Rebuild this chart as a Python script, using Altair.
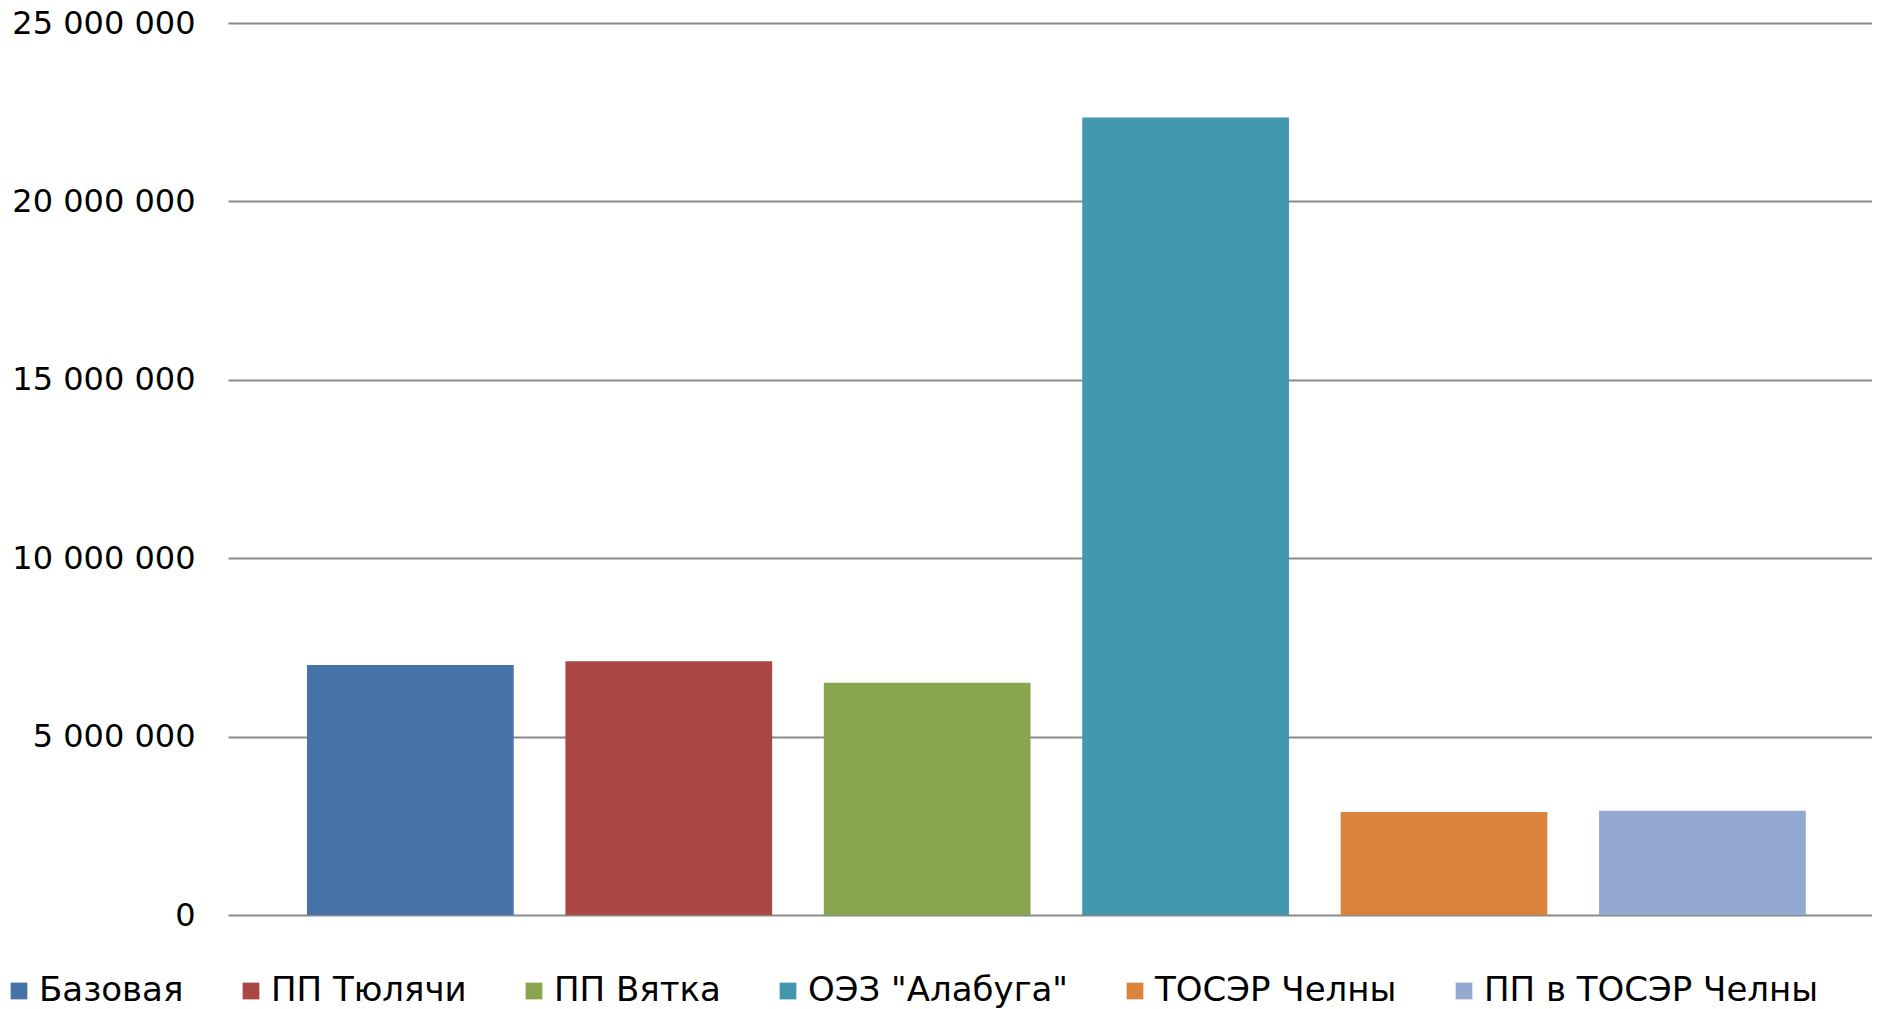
import altair as alt
import pandas as pd

categories = ["Базовая", "ПП Тюлячи", "ПП Вятка", "ОЭЗ \"Алабуга\"", "ТОСЭР Челны", "ПП в ТОСЭР Челны"]
values = [7010000, 7110000, 6510000, 22350000, 2890000, 2920000]
colors = ["#4572A7", "#AA4643", "#89A54E", "#4198AF", "#DB843D", "#93A9CF"]
y_ticks = [0, 5000000, 10000000, 15000000, 20000000, 25000000]

df = pd.DataFrame({"cat": categories, "val": values})

FONT = "DejaVu Sans"

chart = alt.Chart(df).mark_bar().encode(
    x=alt.X("cat:N", sort=categories,
            scale=alt.Scale(paddingInner=0.2, paddingOuter=0.281, align=0.544),
            axis=alt.Axis(labels=False, ticks=False, domain=False, title=None, grid=False)),
    y=alt.Y("val:Q",
            scale=alt.Scale(domain=[0, 25000000], nice=False, zero=True),
            axis=alt.Axis(values=y_ticks, title=None, ticks=False, domain=False,
                          labelPadding=33, labelFontSize=32, labelFont=FONT, labelColor="#000000",
                          labelLimit=0,
                          labelExpr="replace(format(datum.value, ','), /,/g, ' ')",
                          grid=True, gridColor="#8a8a8a", gridWidth=2)),
    color=alt.Color("cat:N", sort=categories,
                    scale=alt.Scale(domain=categories, range=colors),
                    legend=alt.Legend(title=None, orient="none", direction="horizontal",
                                      legendX=-226, legendY=951,
                                      symbolType="square", symbolSize=280, symbolStrokeWidth=0,
                                      labelFontSize=34, labelFont=FONT, labelColor="#000000",
                                      labelOffset=3, columnPadding=50, padding=0,
                                      labelLimit=0)),
).properties(
    width=1644,
    height=892,
    background="#ffffff",
    padding={"left": 220, "top": 15, "right": 0, "bottom": 94},
    autosize=alt.AutoSizeParams(type="none"),
).configure_view(stroke=None)

chart.save("out.html", embed_options={"renderer": "svg", "actions": False})
